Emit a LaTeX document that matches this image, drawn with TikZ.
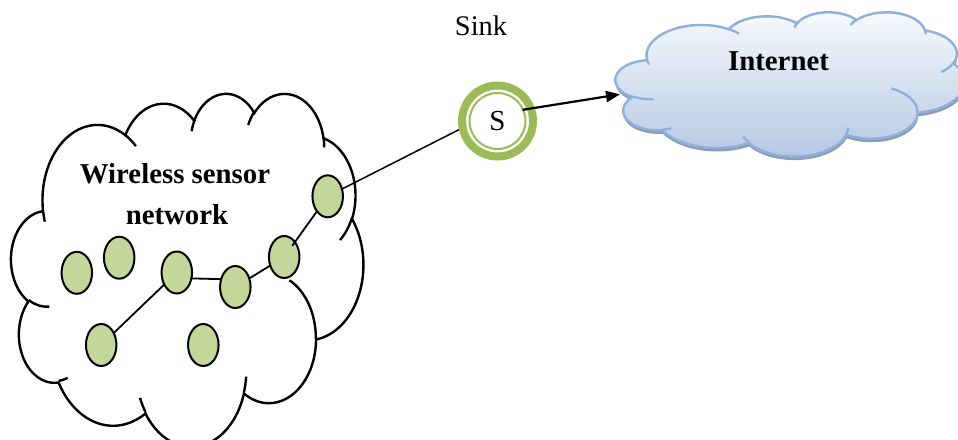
\documentclass[tikz,border=0pt]{standalone}
\usepackage{fontspec}
\setmainfont{Liberation Serif}
\usetikzlibrary{arrows.meta,calc,shapes.geometric}

\definecolor{nodegreen}{HTML}{C4D79B}
\definecolor{ringgreen}{HTML}{9BBB59}
\definecolor{netline}{HTML}{8DB1DA}
\definecolor{nettop}{HTML}{F8FAFD}
\definecolor{netbottom}{HTML}{B3C7E3}
\definecolor{netshadow}{HTML}{8C9CB2}

% parametric angle on an ellipse with radii #1, #2 for the visual angle #3
\newcommand\ellpar[3]{%
  \pgfmathparse{(#3)+mod(atan2((#1)*sin(#3),(#2)*cos(#3))-(#3)+540,360)-180}}
% \cloudseg{prefix}{a}{b}{start}{sweep} stores \<prefix>s and \<prefix>e
\newcommand\cloudseg[5]{%
  \ellpar{#2}{#3}{#4}\expandafter\xdef\csname #1s\endcsname{\pgfmathresult}%
  \ellpar{#2}{#3}{(#4)+(#5)}\expandafter\xdef\csname #1e\endcsname{\pgfmathresult}}

% outline arcs of the cloud (unit square 432 x 432)
\cloudseg{clA}{67.53}{91.90}{-190.4875}{123.7805}
\cloudseg{clB}{53.33}{72.67}{-144.1024}{89.9452}
\cloudseg{clC}{43.65}{59.45}{-145.8079}{99.7230}
\cloudseg{clD}{48.57}{65.95}{-130.9861}{117.2417}
\cloudseg{clE}{53.33}{72.73}{-78.7089}{109.0269}
\cloudseg{clF}{67.75}{92.20}{-46.2673}{130.2690}
\cloudseg{clG}{57.85}{78.67}{0.6250}{114.0333}
\cloudseg{clH}{67.52}{92.15}{22.4516}{115.1726}
\cloudseg{clI}{77.20}{105.43}{66.2426}{75.7110}
\cloudseg{clJ}{43.60}{59.18}{-274.9421}{146.7356}
\cloudseg{clK}{43.45}{59.45}{-246.8285}{152.5189}
% inner tails where two bumps meet
\cloudseg{mkA}{43.45}{59.45}{86.7420}{26.4295}
\cloudseg{mkB}{43.60}{59.18}{73.6105}{11.4475}
\cloudseg{mkC}{67.52}{92.15}{137.6242}{14.0811}
\cloudseg{mkD}{67.52}{92.15}{6.4533}{15.9984}
\cloudseg{mkE}{57.85}{78.67}{-70.2924}{70.9174}
\cloudseg{mkF}{53.33}{72.73}{30.3180}{27.7515}
\cloudseg{mkG}{48.57}{65.95}{-13.7443}{14.8589}
\cloudseg{mkH}{48.57}{65.95}{-149.1815}{18.1954}
\cloudseg{mkI}{43.65}{59.45}{-163.4943}{17.6864}
\cloudseg{mkJ}{67.53}{91.90}{-66.7070}{12.3194}
\cloudseg{mkK}{67.53}{91.90}{157.6544}{11.8582}

\newcommand\cloudpath{(39.00,143.70)
  arc[start angle=\clAs, end angle=\clAe, x radius=67.53, y radius=91.90]
  arc[start angle=\clBs, end angle=\clBe, x radius=53.33, y radius=72.67]
  arc[start angle=\clCs, end angle=\clCe, x radius=43.65, y radius=59.45]
  arc[start angle=\clDs, end angle=\clDe, x radius=48.57, y radius=65.95]
  arc[start angle=\clEs, end angle=\clEe, x radius=53.33, y radius=72.73]
  arc[start angle=\clFs, end angle=\clFe, x radius=67.75, y radius=92.20]
  arc[start angle=\clGs, end angle=\clGe, x radius=57.85, y radius=78.67]
  arc[start angle=\clHs, end angle=\clHe, x radius=67.52, y radius=92.15]
  arc[start angle=\clIs, end angle=\clIe, x radius=77.20, y radius=105.43]
  arc[start angle=\clJs, end angle=\clJe, x radius=43.60, y radius=59.18]
  arc[start angle=\clKs, end angle=\clKe, x radius=43.45, y radius=59.45]
  -- cycle}

\newcommand\cloudtails{%
  (46.93,261.77) arc[start angle=\mkAs, end angle=\mkAe, x radius=43.45, y radius=59.45]
  (69.28,348.99) arc[start angle=\mkBs, end angle=\mkBe, x radius=43.60, y radius=59.18]
  (164.78,390.90) arc[start angle=\mkCs, end angle=\mkCe, x radius=67.52, y radius=92.15]
  (288.27,347.51) arc[start angle=\mkDs, end angle=\mkDe, x radius=67.52, y radius=92.15]
  (341.29,229.54) arc[start angle=\mkEs, end angle=\mkEe, x radius=57.85, y radius=78.67]
  (417.98,153.54) arc[start angle=\mkFs, end angle=\mkFe, x radius=53.33, y radius=72.73]
  (383.24,54.26) arc[start angle=\mkGs, end angle=\mkGe, x radius=48.57, y radius=65.95]
  (290.78,39.52) arc[start angle=\mkHs, end angle=\mkHe, x radius=48.57, y radius=65.95]
  (221.41,47.20) arc[start angle=\mkIs, end angle=\mkIe, x radius=43.65, y radius=59.45]
  (140.00,51.92) arc[start angle=\mkJs, end angle=\mkJe, x radius=67.53, y radius=91.90]
  (41.27,157.89) arc[start angle=\mkKs, end angle=\mkKe, x radius=67.53, y radius=91.90]}

\tikzset{
  sensor/.style={ellipse, draw=black, line width=2pt, fill=nodegreen,
    minimum width=30.5pt, minimum height=42pt, inner sep=0pt, outer sep=0pt},
  link/.style={line width=1.8pt, line cap=round},
  bigtext/.style={font=\bfseries\fontsize{28.8}{34}\selectfont, inner sep=0pt},
  ringhelper/.style={circle, inner sep=0pt, outer sep=0pt, draw=none},
}

\begin{document}
\begin{tikzpicture}[x=1pt, y=-1pt]
\useasboundingbox (0,0) rectangle (958,439);
\clip (0,0) rectangle (958,439);

% sensor field cloud
\begin{scope}[shift={(11.2,92.7)}, x=0.815pt, y=-0.817pt]
  \filldraw[fill=white, draw=black, line width=2.4pt] \cloudpath;
  \draw[black, line width=2.4pt] \cloudtails;
\end{scope}

% internet cloud with its shadow
\begin{scope}[shift={(0.5,3.5)}]
  \begin{scope}[shift={(615.5,11.8)}, x=0.808pt, y=-0.334pt]
    \fill[netshadow] \cloudpath;
  \end{scope}
\end{scope}
\begin{scope}[shift={(615.5,11.8)}, x=0.808pt, y=-0.334pt]
  \shade[top color=nettop, bottom color=netbottom] \cloudpath;
  \draw[netline, line width=2.4pt] \cloudpath;
  \draw[netline, line width=2.4pt] \cloudtails;
\end{scope}

% labels
\node[bigtext, anchor=base] (wsn1) at (175,183) {Wireless sensor};
\node[bigtext, anchor=base] (wsn2) at (177,224) {network};
\node[bigtext, anchor=base] (net) at (778.5,70) {Internet};
\node[font=\fontsize{28.4}{34}\selectfont, inner sep=0pt, anchor=base] (sinklabel) at (481,35) {Sink};

% sensor nodes
\node[sensor] (n1) at (76.8,272.8) {};
\node[sensor] (n2) at (119.2,257.7) {};
\node[sensor] (n3) at (176.8,272.5) {};
\node[sensor] (n4) at (235.3,287) {};
\node[sensor] (n5) at (284.2,257) {};
\node[sensor] (n6) at (327.7,196.3) {};
\node[sensor] (n7) at (101.2,345) {};
\node[sensor] (n8) at (203.3,345) {};

% multi-hop route towards the sink
\draw[link] (n7) -- (n3);
\draw[link] (n3.-22) -- (n4.151);
\draw[link] (n4) -- (n5);
\draw[link] (n6) -- ($(n5)!0.19!(n6)$);

% sink node: inner core carries the label, the rim sits inside the thick ring
\node[ringhelper, minimum size=55pt, font=\fontsize{29}{32}\selectfont] (sink) at (497.5,121) {S};
\node[ringhelper, minimum size=67pt] (sinkrim) at (sink.center) {};
\draw[line width=1.5pt] (n6) -- (sinkrim.190);
\draw[ringgreen, line width=8pt] (sink.center) circle[radius=35.5pt];
\draw[ringgreen, line width=2pt] (sink.center) circle[radius=28pt];

\coordinate (netin) at (620,94.3);
\draw[line width=2.2pt, -{Triangle[length=14pt, width=11pt]}] (sink.24) -- (netin);
\end{tikzpicture}
\end{document}
